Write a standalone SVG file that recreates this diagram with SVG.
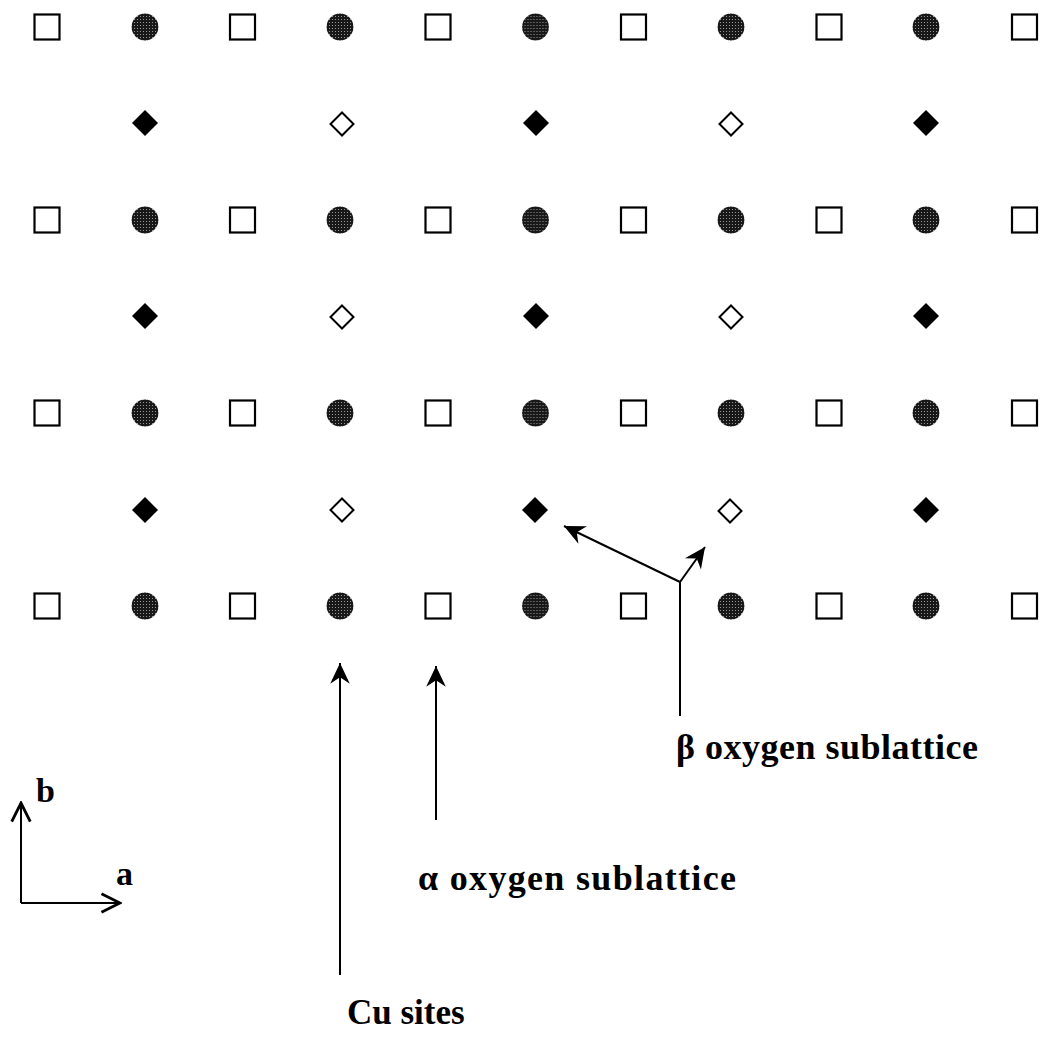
<svg xmlns="http://www.w3.org/2000/svg" xmlns:xlink="http://www.w3.org/1999/xlink" width="1040" height="1037" viewBox="0 0 1040 1037">
  <defs>
    <!-- halftone fill for the Cu sites -->
    <pattern id="halftone" width="3" height="3" patternUnits="userSpaceOnUse">
      <rect width="3" height="3" fill="#181818"/>
      <circle cx="1.5" cy="1.5" r="0.55" fill="#aaaaaa"/>
    </pattern>
    <rect id="sq" x="-12.5" y="-12.5" width="25" height="25" fill="#fff" stroke="#000" stroke-width="2.2"/>
    <circle id="cu" r="13.4" fill="url(#halftone)"/>
    <path id="dfill" d="M0,-13 L13,0 L0,13 L-13,0 Z" fill="#000"/>
    <path id="dopen" d="M0,-11.5 L11.5,0 L0,11.5 L-11.5,0 Z" fill="#fff" stroke="#000" stroke-width="2"/>
    <marker id="barb" markerUnits="userSpaceOnUse" markerWidth="24" markerHeight="24" viewBox="-20 -10 22 20" refX="0" refY="0" orient="auto">
      <path d="M0,0 L-19,-9 L-13,0 L-19,9 Z" fill="#000"/>
    </marker>
    <marker id="vee" markerUnits="userSpaceOnUse" markerWidth="24" markerHeight="24" viewBox="-20 -10 22 20" refX="0" refY="0" orient="auto">
      <path d="M-17,-8.5 L0,0 L-17,8.5" fill="none" stroke="#000" stroke-width="2.6"/>
    </marker>
  </defs>
  <style>
    .lbl { font-family: "Liberation Serif", "Times New Roman", serif; font-weight: bold; fill: #000; }
    .conn { stroke: #000; stroke-width: 2; fill: none; }
  </style>

  <rect width="1040" height="1037" fill="#fff"/>

  <!-- alpha oxygen sites (open squares) -->
  <g id="alpha-sites">
    <g id="sq-r1-1"><use xlink:href="#sq" x="47" y="27"/></g>
    <g id="sq-r1-2"><use xlink:href="#sq" x="242.5" y="27"/></g>
    <g id="sq-r1-3"><use xlink:href="#sq" x="438" y="27"/></g>
    <g id="sq-r1-4"><use xlink:href="#sq" x="633.5" y="27"/></g>
    <g id="sq-r1-5"><use xlink:href="#sq" x="829" y="27"/></g>
    <g id="sq-r1-6"><use xlink:href="#sq" x="1024.5" y="27"/></g>
    <g id="sq-r2-1"><use xlink:href="#sq" x="47" y="220"/></g>
    <g id="sq-r2-2"><use xlink:href="#sq" x="242.5" y="220"/></g>
    <g id="sq-r2-3"><use xlink:href="#sq" x="438" y="220"/></g>
    <g id="sq-r2-4"><use xlink:href="#sq" x="633.5" y="220"/></g>
    <g id="sq-r2-5"><use xlink:href="#sq" x="829" y="220"/></g>
    <g id="sq-r2-6"><use xlink:href="#sq" x="1024.5" y="220"/></g>
    <g id="sq-r3-1"><use xlink:href="#sq" x="47" y="413"/></g>
    <g id="sq-r3-2"><use xlink:href="#sq" x="242.5" y="413"/></g>
    <g id="sq-r3-3"><use xlink:href="#sq" x="438" y="413"/></g>
    <g id="sq-r3-4"><use xlink:href="#sq" x="633.5" y="413"/></g>
    <g id="sq-r3-5"><use xlink:href="#sq" x="829" y="413"/></g>
    <g id="sq-r3-6"><use xlink:href="#sq" x="1024.5" y="413"/></g>
    <g id="sq-r4-1"><use xlink:href="#sq" x="47" y="606"/></g>
    <g id="sq-r4-2"><use xlink:href="#sq" x="242.5" y="606"/></g>
    <g id="sq-r4-3"><use xlink:href="#sq" x="438" y="606"/></g>
    <g id="sq-r4-4"><use xlink:href="#sq" x="633.5" y="606"/></g>
    <g id="sq-r4-5"><use xlink:href="#sq" x="829" y="606"/></g>
    <g id="sq-r4-6"><use xlink:href="#sq" x="1024.5" y="606"/></g>
  </g>

  <!-- Cu sites (halftone discs) -->
  <g id="cu-sites">
    <g id="cu-r1-1"><use xlink:href="#cu" x="145" y="27"/></g>
    <g id="cu-r1-2"><use xlink:href="#cu" x="340" y="27"/></g>
    <g id="cu-r1-3"><use xlink:href="#cu" x="535.5" y="27"/></g>
    <g id="cu-r1-4"><use xlink:href="#cu" x="731" y="27"/></g>
    <g id="cu-r1-5"><use xlink:href="#cu" x="926" y="27"/></g>
    <g id="cu-r2-1"><use xlink:href="#cu" x="145" y="220"/></g>
    <g id="cu-r2-2"><use xlink:href="#cu" x="340" y="220"/></g>
    <g id="cu-r2-3"><use xlink:href="#cu" x="535.5" y="220"/></g>
    <g id="cu-r2-4"><use xlink:href="#cu" x="731" y="220"/></g>
    <g id="cu-r2-5"><use xlink:href="#cu" x="926" y="220"/></g>
    <g id="cu-r3-1"><use xlink:href="#cu" x="145" y="413"/></g>
    <g id="cu-r3-2"><use xlink:href="#cu" x="340" y="413"/></g>
    <g id="cu-r3-3"><use xlink:href="#cu" x="535.5" y="413"/></g>
    <g id="cu-r3-4"><use xlink:href="#cu" x="731" y="413"/></g>
    <g id="cu-r3-5"><use xlink:href="#cu" x="926" y="413"/></g>
    <g id="cu-r4-1"><use xlink:href="#cu" x="145" y="606"/></g>
    <g id="cu-r4-2"><use xlink:href="#cu" x="340" y="606"/></g>
    <g id="cu-r4-3"><use xlink:href="#cu" x="535.5" y="606"/></g>
    <g id="cu-r4-4"><use xlink:href="#cu" x="731" y="606"/></g>
    <g id="cu-r4-5"><use xlink:href="#cu" x="926" y="606"/></g>
  </g>

  <!-- beta oxygen sites (filled and open diamonds) -->
  <g id="beta-sites">
    <g id="dm-r1-1"><use xlink:href="#dfill" x="145" y="123"/></g>
    <g id="dm-r1-2"><use xlink:href="#dopen" x="342" y="124"/></g>
    <g id="dm-r1-3"><use xlink:href="#dfill" x="536" y="123"/></g>
    <g id="dm-r1-4"><use xlink:href="#dopen" x="731" y="124"/></g>
    <g id="dm-r1-5"><use xlink:href="#dfill" x="926" y="123"/></g>
    <g id="dm-r2-1"><use xlink:href="#dfill" x="145" y="316"/></g>
    <g id="dm-r2-2"><use xlink:href="#dopen" x="342" y="317"/></g>
    <g id="dm-r2-3"><use xlink:href="#dfill" x="536" y="316"/></g>
    <g id="dm-r2-4"><use xlink:href="#dopen" x="731" y="317"/></g>
    <g id="dm-r2-5"><use xlink:href="#dfill" x="926" y="316"/></g>
    <g id="dm-r3-1"><use xlink:href="#dfill" x="145" y="510"/></g>
    <g id="dm-r3-2"><use xlink:href="#dopen" x="342" y="510"/></g>
    <g id="dm-r3-3"><use xlink:href="#dfill" x="535" y="510"/></g>
    <g id="dm-r3-4"><use xlink:href="#dopen" x="730" y="511"/></g>
    <g id="dm-r3-5"><use xlink:href="#dfill" x="926" y="510"/></g>
  </g>

  <!-- pointer arrows and lattice axes -->
  <g id="connectors">
    <line class="conn" x1="340" y1="975" x2="340" y2="663" marker-end="url(#barb)"/>
    <line class="conn" x1="436" y1="820" x2="436" y2="666" marker-end="url(#barb)"/>
    <line class="conn" x1="680" y1="716" x2="680" y2="582"/>
    <line class="conn" x1="680" y1="582" x2="564" y2="526" marker-end="url(#barb)"/>
    <line class="conn" x1="680" y1="582" x2="705" y2="547" marker-end="url(#barb)"/>
    <line class="conn" x1="21" y1="903" x2="21" y2="803" marker-end="url(#vee)"/>
    <line class="conn" x1="21" y1="903" x2="120" y2="903" marker-end="url(#vee)"/>
  </g>

  <!-- labels -->
  <g id="labels">
    <text class="lbl" x="676" y="759" font-size="36" textLength="302" lengthAdjust="spacing">β oxygen sublattice</text>
    <text class="lbl" x="418" y="890" font-size="36" textLength="318" lengthAdjust="spacing">α oxygen sublattice</text>
    <text class="lbl" x="347" y="1024" font-size="35">Cu sites</text>
    <text class="lbl" x="36" y="802" font-size="34">b</text>
    <text class="lbl" x="116" y="885" font-size="34">a</text>
  </g>
</svg>
